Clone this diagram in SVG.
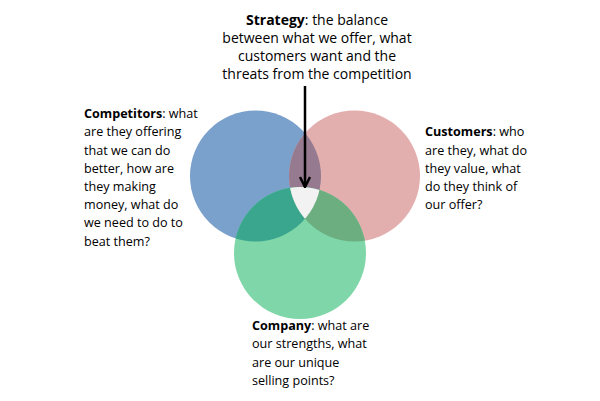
<svg xmlns="http://www.w3.org/2000/svg" width="600" height="401" viewBox="0 0 600 401">
<style>
text{font-family:"Open Sans","Liberation Sans",sans-serif;font-size:12.6px;fill:#000}
.b{font-weight:bold}
.s{font-size:14px}
</style>
<defs>
<clipPath id="cb"><circle cx="255.5" cy="176" r="65.5"/></clipPath>
<clipPath id="cp"><circle cx="354.5" cy="176" r="65.5"/></clipPath>
<marker id="ah" viewBox="0 0 10 10" refX="9" refY="5" markerWidth="5" markerHeight="5" orient="auto"><path d="M1,1 L9,5 L1,9" fill="none" stroke="#000" stroke-width="2"/></marker>
</defs>
<rect width="600" height="401" fill="#fff"/>
<g id="competitors"><circle cx="255.5" cy="176" r="65.5" fill="#7aa0cc"/></g>
<g id="customers"><circle cx="354.5" cy="176" r="65.5" fill="#e3aeae"/></g>
<g id="company"><circle cx="300" cy="253" r="66" fill="#7fd6a8"/></g>
<g id="overlaps">
<circle cx="354.5" cy="176" r="65.5" fill="#957a90" clip-path="url(#cb)"/>
<circle cx="300" cy="253" r="66" fill="#3aa68e" clip-path="url(#cb)"/>
<circle cx="300" cy="253" r="66" fill="#6cae7f" clip-path="url(#cp)"/>
<g clip-path="url(#cb)"><circle cx="300" cy="253" r="66" fill="#f2f2f2" clip-path="url(#cp)"/></g>
</g>
<g id="connectors"><line x1="305" y1="86" x2="305" y2="187" stroke="#000" stroke-width="2.5" marker-end="url(#ah)"/></g>
<g id="strategy" text-anchor="middle">
<text class="s" x="317" y="25"><tspan class="b">Strategy</tspan>: the balance</text>
<text class="s" x="317" y="43">between what we offer, what</text>
<text class="s" x="317" y="61">customers want and the</text>
<text class="s" x="317" y="79">threats from the competition</text>
</g>
<g id="competitors-label">
<text x="84" y="118"><tspan class="b">Competitors</tspan>: what</text>
<text x="84" y="136">are they offering</text>
<text x="84" y="155">that we can do</text>
<text x="84" y="173">better, how are</text>
<text x="84" y="191">they making</text>
<text x="84" y="209">money, what do</text>
<text x="84" y="227">we need to do to</text>
<text x="84" y="246">beat them?</text>
</g>
<g id="customers-label">
<text x="425" y="136"><tspan class="b">Customers</tspan>: who</text>
<text x="425" y="155">are they, what do</text>
<text x="425" y="173">they value, what</text>
<text x="425" y="191">do they think of</text>
<text x="425" y="209">our offer?</text>
</g>
<g id="company-label">
<text x="252" y="330"><tspan class="b">Company</tspan>: what are</text>
<text x="252" y="348">our strengths, what</text>
<text x="252" y="367">are our unique</text>
<text x="252" y="385">selling points?</text>
</g>
</svg>
